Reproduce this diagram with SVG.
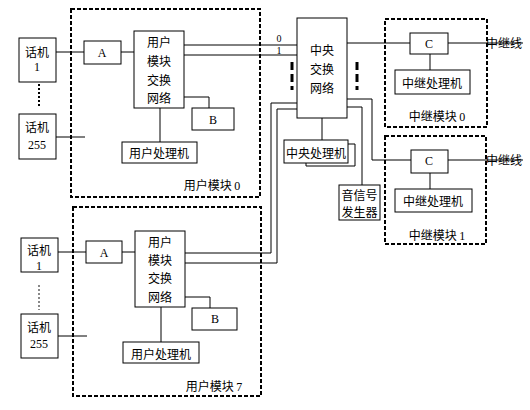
<svg xmlns="http://www.w3.org/2000/svg" width="530" height="410" viewBox="0 0 530 410">
<style>
.box{fill:#fff;stroke:#000;stroke-width:1}
.mod{fill:none;stroke:#000;stroke-width:2;stroke-dasharray:4 2}
.ln{fill:none;stroke:#000;stroke-width:1}
.t{font-family:"Noto Sans CJK SC","Noto Sans",sans-serif;font-size:12px;fill:#000;text-anchor:middle}
.n{font-family:"Liberation Serif",serif;font-size:12px;fill:#000;text-anchor:middle}
.s{font-size:10px}
.l{text-anchor:start}
</style>
<rect width="530" height="410" fill="#fff"/>
<g id="connectors">
<line class="ln" x1="56" y1="52" x2="84" y2="52"/>
<line class="ln" x1="121" y1="52" x2="134" y2="52"/>
<line class="ln" x1="56" y1="137" x2="85" y2="137"/>
<polyline class="ln" points="184,97 209,97 209,108"/>
<line class="ln" x1="160" y1="108" x2="160" y2="142"/>
<line class="ln" x1="184" y1="45" x2="297" y2="45"/>
<line class="ln" x1="184" y1="55" x2="297" y2="55"/>
<line x1="39" y1="84" x2="39" y2="108" stroke="#000" stroke-width="2" stroke-dasharray="2 2"/>
<line class="ln" x1="58" y1="252" x2="86" y2="252"/>
<line class="ln" x1="122" y1="252" x2="135" y2="252"/>
<line class="ln" x1="58" y1="336" x2="87" y2="336"/>
<polyline class="ln" points="185,297 210,297 210,308"/>
<line class="ln" x1="161" y1="307" x2="161" y2="342"/>
<polyline class="ln" points="297,103 271,103 271,253 185,253"/>
<polyline class="ln" points="297,109 277,109 277,263 185,263"/>
<line x1="39" y1="285" x2="39" y2="310" stroke="#888" stroke-width="2" stroke-dasharray="2 2"/>
<line class="ln" x1="322" y1="118" x2="322" y2="140"/>
<polyline class="ln" points="348,144 355,144 355,166 306,166 306,163"/>
<polyline class="ln" points="347,107 362,107 362,185"/>
<polyline class="ln" points="347,99 372,99 372,160 411,160"/>
<line class="ln" x1="347" y1="43" x2="410" y2="43"/>
<line class="ln" x1="448" y1="43" x2="523" y2="43"/>
<line class="ln" x1="448" y1="160" x2="523" y2="160"/>
<line class="ln" x1="430" y1="54" x2="430" y2="70"/>
<line class="ln" x1="430" y1="173" x2="430" y2="189"/>
<line x1="292" y1="62" x2="292" y2="90" stroke="#000" stroke-width="3" stroke-dasharray="8 4"/>
<line x1="357" y1="62" x2="357" y2="90" stroke="#000" stroke-width="3" stroke-dasharray="8 4"/>
</g>
<g id="module0">
<rect class="mod" x="71" y="9" width="189" height="188"/>
<text class="t" x="212" y="190">用户模块 <tspan class="n">0</tspan></text>
</g>
<g id="module7">
<rect class="mod" x="73" y="207" width="188" height="189"/>
<text class="t" x="214" y="391">用户模块 <tspan class="n">7</tspan></text>
</g>
<g id="trunk0">
<rect class="mod" x="385" y="19" width="102" height="108"/>
<text class="t" x="437" y="121">中继模块 <tspan class="n">0</tspan></text>
</g>
<g id="trunk1">
<rect class="mod" x="385" y="136" width="101" height="108"/>
<text class="t" x="437" y="240">中继模块 <tspan class="n">1</tspan></text>
</g>
<g id="phone1-0"><rect class="box" x="19" y="38" width="37" height="44"/><text class="t" x="37" y="57">话机</text><text class="n" x="37" y="71">1</text></g>
<g id="phone255-0"><rect class="box" x="19" y="114" width="37" height="45"/><text class="t" x="37" y="132">话机</text><text class="n" x="37" y="149">255</text></g>
<g id="A0"><rect class="box" x="84" y="41" width="37" height="23"/><text class="n" x="102" y="57">A</text></g>
<g id="switch0"><rect class="box" x="134" y="31" width="50" height="77"/><text class="t" x="159" y="47">用户</text><text class="t" x="159" y="66">模块</text><text class="t" x="159" y="85">交换</text><text class="t" x="159" y="103">网络</text></g>
<g id="B0"><rect class="box" x="192" y="108" width="42" height="22"/><text class="n" x="213" y="124">B</text></g>
<g id="proc0"><rect class="box" x="122" y="142" width="75" height="21"/><text class="t" x="159" y="158">用户处理机</text></g>
<g id="phone1-7"><rect class="box" x="21" y="238" width="37" height="34"/><text class="t" x="39" y="255">话机</text><text class="n" x="39" y="270">1</text></g>
<g id="phone255-7"><rect class="box" x="21" y="314" width="37" height="44"/><text class="t" x="39" y="332">话机</text><text class="n" x="39" y="348">255</text></g>
<g id="A7"><rect class="box" x="86" y="241" width="36" height="22"/><text class="n" x="104" y="257">A</text></g>
<g id="switch7"><rect class="box" x="135" y="231" width="50" height="76"/><text class="t" x="160" y="247">用户</text><text class="t" x="160" y="265">模块</text><text class="t" x="160" y="283">交换</text><text class="t" x="160" y="302">网络</text></g>
<g id="B7"><rect class="box" x="192" y="308" width="45" height="22"/><text class="n" x="215" y="323">B</text></g>
<g id="proc7"><rect class="box" x="123" y="342" width="76" height="21"/><text class="t" x="161" y="359">用户处理机</text></g>
<g id="central"><rect class="box" x="297" y="18" width="50" height="100"/><text class="t" x="322" y="55">中央</text><text class="t" x="322" y="74">交换</text><text class="t" x="322" y="93">网络</text></g>
<g id="labels01"><text class="n s" x="279" y="42">0</text><text class="n s" x="279" y="53.5">1</text></g>
<g id="cproc"><rect class="box" x="284" y="140" width="64" height="23"/><text class="t" x="316" y="158">中央处理机</text></g>
<g id="tone"><rect class="box" x="339" y="185" width="41" height="35"/><text class="t" x="359.5" y="199.5" font-size="11.5">音信号</text><text class="t" x="359.5" y="216.5" font-size="11.5">发生器</text></g>
<g id="C0"><rect class="box" x="410" y="33" width="38" height="21"/><text class="n" x="429" y="48">C</text></g>
<g id="tp0"><rect class="box" x="395" y="70" width="75" height="24"/><text class="t" x="432" y="88">中继处理机</text></g>
<g id="C1"><rect class="box" x="411" y="150" width="37" height="23"/><text class="n" x="429" y="165">C</text></g>
<g id="tp1"><rect class="box" x="395" y="189" width="77" height="23"/><text class="t" x="433" y="206">中继处理机</text></g>
<g id="trunklines"><text class="t l" x="486" y="48">中继线</text><text class="t l" x="486" y="165">中继线</text></g>
</svg>
